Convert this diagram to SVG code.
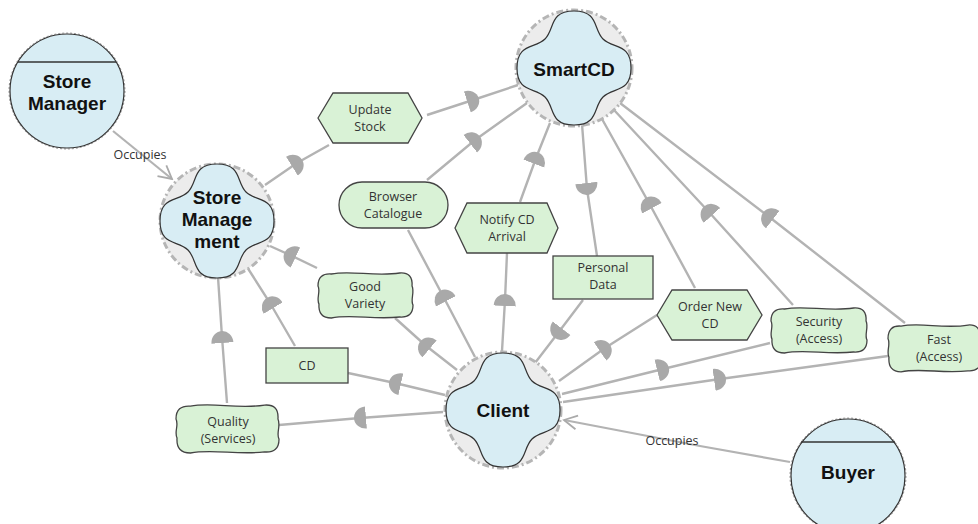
<svg xmlns="http://www.w3.org/2000/svg" xmlns:xlink="http://www.w3.org/1999/xlink" width="978" height="524" viewBox="0 0 978 524">
<style>
.link{fill:none;stroke:#b3b3b3;stroke-width:2.4;marker-mid:url(#dep)}
.occ{fill:none;stroke:#b3b3b3;stroke-width:2.2;marker-end:url(#arr)}
.bound{fill:#ececec;stroke:#b5b5b5;stroke-width:3;stroke-dasharray:7 3 2 3}
.actor{fill:#d8edf4;stroke:#333;stroke-width:1.2}
.actorOut{fill:none;stroke:#999;stroke-width:1;stroke-dasharray:2 2}
.cloud{fill:#d8edf4;stroke:#333;stroke-width:1.2}
.el{fill:#d9f2d6;stroke:#444;stroke-width:1.3}
.big{font-family:"Liberation Sans",Arial,sans-serif;font-weight:bold;font-size:19px;fill:#111;text-anchor:middle}
.lbl{font-family:"Open Sans","Noto Sans",sans-serif;font-size:12.5px;fill:#333;text-anchor:middle}
</style>
<defs>
<marker id="dep" viewBox="0 -12 14 24" refX="6" refY="0" markerWidth="14" markerHeight="24" orient="auto" markerUnits="userSpaceOnUse">
<path d="M0,-11 A12,11 0 0 1 0,11 Z" fill="#a9a9a9"/>
</marker>
<marker id="arr" viewBox="-15 -9 17 18" refX="0" refY="0" markerWidth="17" markerHeight="18" orient="auto" markerUnits="userSpaceOnUse">
<path d="M-13,-7 L0,0 L-13,7" fill="none" stroke="#aaa" stroke-width="1.8"/>
</marker>
<path id="cloudShape" d="M0,-57 C25,-57 19,-39 29,-29 C39,-19 57,-25 57,0 C57,25 39,19 29,29 C19,39 25,57 0,57 C-25,57 -19,39 -29,29 C-39,19 -57,25 -57,0 C-57,-25 -39,-19 -29,-29 C-19,-39 -25,-57 0,-57 Z"/>
<path id="soft" vector-effect="non-scaling-stroke" d="M14,2 C35,-2 60,5 86,1 Q100,0 99,14 C102,20 97,28 100,33 Q100,46 86,45 C60,48 35,42 14,46 Q0,46 1,32 C-2,26 3,20 0,14 Q0,1 14,2 Z"/>
</defs>
<rect width="978" height="524" fill="#ffffff"/>

<g id="connectors">
<path class="link" d="M265,185 L297,163 L329,145"/>
<path class="link" d="M427,115 L473,100 L518,85"/>
<path class="link" d="M475,357 L443,296 L408,230"/>
<path class="link" d="M427,180 L475,140 L527,103"/>
<path class="link" d="M502,351 L505,300 L507,253"/>
<path class="link" d="M520,202 L536,158 L550,123"/>
<path class="link" d="M582,124 L587,189 L597,256"/>
<path class="link" d="M583,300 L558,333 L535,363"/>
<path class="link" d="M695,288 L649,203 L602,119"/>
<path class="link" d="M559,381 L605,348 L657,315"/>
<path class="link" d="M793,305 L708,211 L614,110"/>
<path class="link" d="M562,394 L663,369 L770,343"/>
<path class="link" d="M905,323 L768,216 L620,103"/>
<path class="link" d="M563,402 L720,379 L888,356"/>
<path class="link" d="M317,268 L290,255 L270,246"/>
<path class="link" d="M457,370 L425,345 L395,318"/>
<path class="link" d="M295,346 L270,303 L247,267"/>
<path class="link" d="M445,395 L395,383 L348,373"/>
<path class="link" d="M227,403 L222,337 L218,277"/>
<path class="link" d="M443,412 L360,418 L279,425"/>
<path class="occ" d="M113,131 L172,179"/>
<path class="occ" d="M790,462 L700,446 L564,420"/>
<text class="lbl" x="140" y="159">Occupies</text>
<text class="lbl" x="672" y="445">Occupies</text>
</g>

<g id="store-manager">
<circle class="actorOut" cx="67" cy="91" r="58"/>
<circle class="actor" cx="67" cy="91" r="57"/>
<line x1="18" y1="62" x2="116" y2="62" stroke="#333" stroke-width="1.4"/>
<text class="big" x="67" y="88">Store</text>
<text class="big" x="67" y="110">Manager</text>
</g>

<g id="buyer">
<circle class="actorOut" cx="848" cy="476" r="58"/>
<circle class="actor" cx="848" cy="476" r="57"/>
<line x1="801" y1="442" x2="895" y2="442" stroke="#333" stroke-width="1.4"/>
<text class="big" x="848" y="479">Buyer</text>
</g>

<g id="store-management">
<circle class="bound" cx="217" cy="221" r="57"/>
<use href="#cloudShape" class="cloud" transform="translate(217,221)"/>
<text class="big" x="217" y="204">Store</text>
<text class="big" x="217" y="226">Manage</text>
<text class="big" x="217" y="248">ment</text>
</g>

<g id="smartcd">
<circle class="bound" cx="574" cy="68" r="58"/>
<use href="#cloudShape" class="cloud" transform="translate(574,68)"/>
<text class="big" x="574" y="76">SmartCD</text>
</g>

<g id="client">
<circle class="bound" cx="503" cy="410" r="58"/>
<use href="#cloudShape" class="cloud" transform="translate(503,410)"/>
<text class="big" x="503" y="417">Client</text>
</g>

<g id="update-stock">
<polygon class="el" points="318,118 333,93 408,93 422,118 408,143 333,143"/>
<text class="lbl" x="370" y="114">Update</text>
<text class="lbl" x="370" y="131">Stock</text>
</g>

<g id="browser-catalogue">
<rect class="el" x="339" y="182" width="109" height="46" rx="23"/>
<text class="lbl" x="393" y="201">Browser</text>
<text class="lbl" x="393" y="218">Catalogue</text>
</g>

<g id="notify-cd-arrival">
<polygon class="el" points="455,228 467,203 547,203 558,228 547,253 467,253"/>
<text class="lbl" x="507" y="224">Notify CD</text>
<text class="lbl" x="507" y="241">Arrival</text>
</g>

<g id="personal-data">
<rect class="el" x="553" y="256" width="100" height="43"/>
<text class="lbl" x="603" y="272">Personal</text>
<text class="lbl" x="603" y="289">Data</text>
</g>

<g id="order-new-cd">
<polygon class="el" points="657,315 672,290 747,290 762,315 747,340 672,340"/>
<text class="lbl" x="710" y="311">Order New</text>
<text class="lbl" x="710" y="328">CD</text>
</g>

<g id="security-access">
<use href="#soft" class="el" transform="translate(771,307) scale(0.96,1)"/>
<text class="lbl" x="819" y="326">Security</text>
<text class="lbl" x="819" y="343">(Access)</text>
</g>

<g id="fast-access">
<use href="#soft" class="el" transform="translate(888,324) scale(0.93,1.04)"/>
<text class="lbl" x="939" y="344">Fast</text>
<text class="lbl" x="939" y="361">(Access)</text>
</g>

<g id="good-variety">
<use href="#soft" class="el" transform="translate(318,272) scale(0.95,1)"/>
<text class="lbl" x="365" y="291">Good</text>
<text class="lbl" x="365" y="308">Variety</text>
</g>

<g id="cd">
<rect class="el" x="266" y="348" width="82" height="35"/>
<text class="lbl" x="307" y="370">CD</text>
</g>

<g id="quality-services">
<use href="#soft" class="el" transform="translate(176,404) scale(1.03,1.065)"/>
<text class="lbl" x="228" y="426">Quality</text>
<text class="lbl" x="228" y="443">(Services)</text>
</g>
</svg>
